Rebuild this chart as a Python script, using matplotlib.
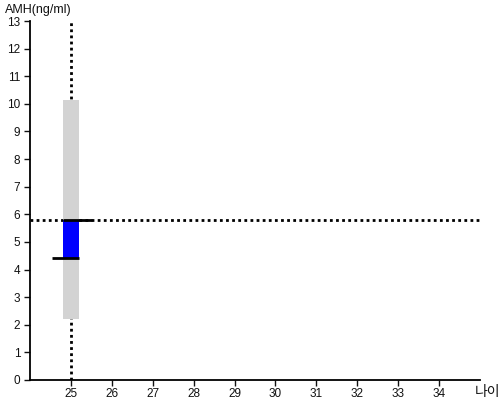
import matplotlib
matplotlib.use("Agg")
import matplotlib.pyplot as plt

# data
age = [25]
amh_low = [2.2]
amh_high = [10.15]
amh_value = [5.8]
amh_ref = [4.4]
xticks = [25, 26, 27, 28, 29, 30, 31, 32, 33, 34]
yticks = list(range(0, 14))
ref_age = 25
ref_amh = 5.78

fig = plt.figure(figsize=(5, 4), dpi=100)
ax = fig.add_axes([0.06, 0.05, 0.90, 0.8975])
ax.set_xlim(24, 35)
ax.set_ylim(0, 13)

bw = 0.39
for a, lo, hi, v, r in zip(age, amh_low, amh_high, amh_value, amh_ref):
    ax.bar(a, hi - lo, bottom=lo, width=bw, color="#d3d3d3", zorder=3)
    ax.bar(a, v - r, bottom=r, width=bw, color="#0000ff", zorder=4)
    ax.hlines(v, a - bw / 2, a + 0.52, colors="black", lw=2, zorder=5)
    ax.hlines(r, a - 0.47, a + bw / 2, colors="black", lw=2, zorder=5)

ax.axhline(ref_amh, color="black", lw=2, linestyle=(0, (1, 1.2)), zorder=2)
ax.axvline(ref_age, color="black", lw=2, linestyle=(0, (1, 1.2)), zorder=2)

for s in ["top", "right"]:
    ax.spines[s].set_visible(False)
for s in ["left", "bottom"]:
    ax.spines[s].set_linewidth(1.3)

ax.set_xticks(xticks)
ax.set_yticks(yticks)
ax.tick_params(direction="out", length=4, width=1, labelsize=8.5, colors="#111111",
               labelfontfamily="Liberation Sans")
ax.tick_params(axis="x", pad=1.5)
ax.tick_params(axis="y", pad=3)

fig.text(0.01, 0.96, "AMH(ng/ml)", fontsize=9, family="Liberation Sans", color="#111111",
         va="bottom", ha="left")
fig.text(0.95, 0.02, "나이", fontsize=10, family=["Noto Sans CJK KR", "DejaVu Sans"],
         fontweight="light", color="#111111", va="center", ha="left")

fig.savefig("out.png", dpi=100)
